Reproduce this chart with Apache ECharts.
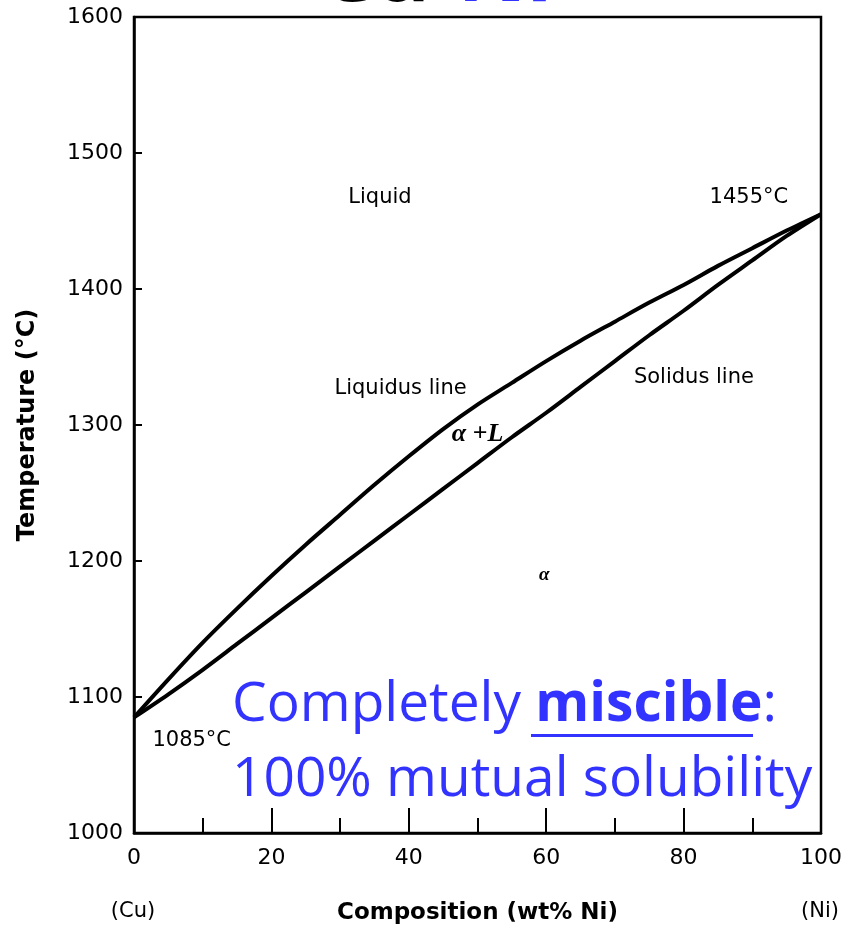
<!DOCTYPE html>
<html>
<head>
<meta charset="utf-8">
<script src="https://cdn.jsdelivr.net/npm/echarts@6/dist/echarts.min.js"></script>
<style>
html,body{margin:0;padding:0;background:#fff;}
#chart{width:845px;height:931px;}
</style>
</head>
<body>
<div id="chart"></div>
<script>
// Composition (wt% Ni)
const composition = [0,5,10,15,20,25,30,35,40,45,50,55,60,65,70,75,80,85,90,95,100];
// Liquidus temperature (°C)
const liquidusT = [1085,1113,1140,1165,1189,1212,1234,1256,1277,1297,1315,1331,1347,1362,1376,1390,1403,1417,1430,1443,1455];
// Solidus temperature (°C)
const solidusT = [1085,1102,1120,1139,1158,1177,1196,1215,1234,1253,1272,1291,1309,1328,1347,1366,1384,1403,1421,1439,1455];
// Region annotations
const annoText = ['Liquid','1455°C','Liquidus line','Solidus line','α +L','α','1085°C'];
const annoX = [35.8, 89.5, 38.8, 81.5, 50, 59.7, 8.4];
const annoT = [1467, 1467, 1327, 1335, 1293, 1190, 1068];
const xTicks = [0,20,40,60,80,100];
const yTicks = [1000,1100,1200,1300,1400,1500,1600];

const chart = echarts.init(document.getElementById('chart'));
const FONT = 'DejaVu Sans';
const INK = '#000';

const liqData = composition.map((c,i)=>[c, liquidusT[i]]);
const solData = composition.map((c,i)=>[c, solidusT[i]]);
const annoData = annoText.map((t,i)=>{
  const item = {value:[annoX[i], annoT[i], t]};
  if (t === 'α +L') {
    item.label = {fontFamily:'Liberation Serif', fontStyle:'italic', fontWeight:'bold', fontSize:26};
  } else if (t === 'α') {
    item.label = {fontFamily:'Liberation Serif', fontStyle:'italic', fontWeight:'bold', fontSize:19};
  }
  return item;
});

const option = {
  backgroundColor:'#fff',
  animation:false,
  grid:{left:134,right:23,top:17,bottom:98,show:true,borderColor:'#000',borderWidth:2.5,backgroundColor:'transparent'},
  xAxis:{
    type:'value', min:0, max:100, interval:20,
    name:'Composition (wt% Ni)', nameLocation:'middle', nameGap:69,
    nameTextStyle:{fontFamily:FONT,fontSize:23,fontWeight:'bold',color:INK},
    axisLine:{show:true,lineStyle:{color:'#000',width:2.5}},
    axisTick:{show:true,inside:true,length:25,lineStyle:{color:'#000',width:2}},
    minorTick:{show:true,splitNumber:2,length:15,lineStyle:{color:'#000',width:2}},
    splitLine:{show:false},
    axisLabel:{fontFamily:FONT,fontSize:22,color:INK,margin:14,
      formatter:v=>xTicks.includes(v)?String(v):''}
  },
  yAxis:{
    type:'value', min:1000, max:1600, interval:100,
    name:'Temperature (°C)', nameLocation:'middle', nameGap:94, nameRotate:90,
    nameTextStyle:{fontFamily:FONT,fontSize:24,fontWeight:'bold',color:INK},
    axisLine:{show:true,lineStyle:{color:'#000',width:2.5}},
    axisTick:{show:true,inside:true,length:8,lineStyle:{color:'#000',width:2}},
    splitLine:{show:false},
    axisLabel:{fontFamily:FONT,fontSize:22,color:INK,margin:11,
      formatter:v=>yTicks.includes(v)?String(v):''}
  },
  series:[
    {type:'line',name:'Liquidus',data:liqData,smooth:0.3,symbol:'none',
      lineStyle:{color:'#000',width:4},z:3},
    {type:'line',name:'Solidus',data:solData,smooth:0.3,symbol:'none',
      lineStyle:{color:'#000',width:4},z:3},
    {type:'scatter',name:'labels',data:annoData,symbolSize:0,silent:true,
      itemStyle:{opacity:1},
      label:{show:true,position:'inside',formatter:p=>p.value[2],opacity:1,
        fontFamily:FONT,fontSize:21,color:INK},z:4}
  ],
  graphic:[
    {type:'text',x:320,y:-23,silent:true,
      style:{text:'{a|Cu-}{b|Ni}',verticalAlign:'middle',
        rich:{a:{fontFamily:'Open Sans',fontWeight:'bold',fontSize:85,fill:'#000'},
              b:{fontFamily:'Open Sans',fontWeight:'bold',fontSize:85,fill:'#3333ff'}}}},
    {type:'text',x:133,y:912,silent:true,
      style:{text:'(Cu)',fontFamily:FONT,fontSize:21,fill:INK,align:'center',verticalAlign:'middle'}},
    {type:'text',x:820,y:912,silent:true,
      style:{text:'(Ni)',fontFamily:FONT,fontSize:21,fill:INK,align:'center',verticalAlign:'middle'}},
    {type:'text',x:232,y:705,silent:true,z:10,
      style:{text:'{r|Completely }{b|miscible}{r|:}',verticalAlign:'middle',
        rich:{r:{fontFamily:'Open Sans',fontSize:55,fill:'#3333ff'},
              b:{fontFamily:'Open Sans',fontSize:55,fontWeight:'bold',fill:'#3333ff'}}}},
    {type:'rect',shape:{x:531,y:734,width:222,height:3},style:{fill:'#3333ff'},silent:true,z:10},
    {type:'text',x:232,y:780,silent:true,z:10,
      style:{text:'100% mutual solubility',verticalAlign:'middle',
        fontFamily:'Open Sans',fontSize:55,fill:'#3333ff'}}
  ]
};
chart.setOption(option);
</script>
</body>
</html>
